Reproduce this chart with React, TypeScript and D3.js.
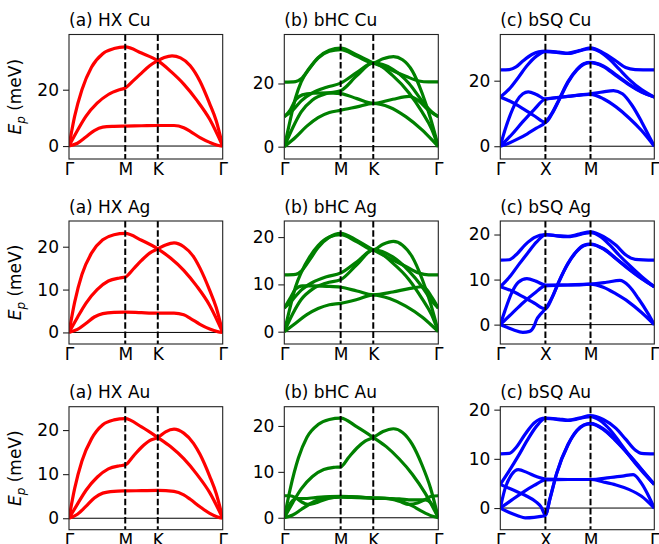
import React, { useEffect, useRef } from 'react';
import * as d3 from 'd3';

type Pt = [number, number];

// k runs 0..3 over the three path segments (G-M-K-G or G-X-M-G)
const HEX_LABELS = ['Γ', 'M', 'K', 'Γ'];
const SQ_LABELS = ['Γ', 'X', 'M', 'Γ'];
const HEX_KPOS = [0, 0.577, 0.911, 1.577];
const SQ_KPOS = [0, 0.5, 1.0, 1.707];

const TITLES = [
  ['(a) HX Cu', '(b) bHC Cu', '(c) bSQ Cu'],
  ['(a) HX Ag', '(b) bHC Ag', '(c) bSQ Ag'],
  ['(a) HX Au', '(b) bHC Au', '(c) bSQ Au'],
];

const Y_LIMITS: [number, number][][] = [
  [[-4.6, 39.6], [-3.9, 35.5], [-3.9, 34.1]],
  [[-2.7, 26.0], [-2.6, 23.4], [-4.3, 23.0]],
  [[-2.6, 25.3], [-2.6, 24.2], [-4.4, 20.6]],
];
const Y_TICKS = [[0, 20], [0, 10, 20], [0, 10, 20]];

const HX_CU: Pt[][] = [
  [[0, 0], [0.1, 10.5], [0.23, 20], [0.4, 28], [0.6, 32.8], [0.8, 34.6], [1, 35.2], [1.5, 33], [2, 30.3], [2.2, 26.5], [2.4, 22], [2.6, 16.3], [2.8, 9.5], [3, 0]],
  [[0, 0], [0.15, 5.5], [0.3, 10.5], [0.5, 15.2], [0.7, 18.3], [0.9, 20], [1, 20.6], [1.25, 23.2], [1.5, 25.9], [1.75, 28.5], [2, 30.3], [2.1, 31.4], [2.22, 32], [2.35, 31.3], [2.5, 28.5], [2.65, 23], [2.8, 15], [2.9, 9], [3, 0]],
  [[0, 0], [0.15, 1], [0.3, 3.2], [0.45, 5.5], [0.6, 6.7], [0.8, 7], [1, 7.1], [1.5, 7.2], [2, 7.3], [2.25, 7.3], [2.4, 6.5], [2.5, 5.2], [2.65, 3], [2.8, 1.3], [2.92, 0.3], [3, 0]],
];
const HX_AG: Pt[][] = [
  [[0, 0], [0.1, 7], [0.23, 13.5], [0.4, 18.5], [0.6, 21.6], [0.8, 22.8], [1, 23.1], [1.5, 21.5], [2, 19.5], [2.2, 17.3], [2.4, 14.5], [2.6, 10.8], [2.8, 6.3], [3, 0]],
  [[0, 0], [0.15, 3.5], [0.3, 6.8], [0.5, 10], [0.7, 12], [0.9, 12.7], [1, 12.9], [1.25, 14.8], [1.5, 16.8], [1.75, 18.5], [2, 19.5], [2.12, 20.4], [2.25, 20.9], [2.4, 20], [2.55, 17.7], [2.65, 15], [2.8, 9.8], [2.9, 5.8], [3, 0]],
  [[0, 0], [0.15, 0.7], [0.3, 2.1], [0.45, 3.6], [0.6, 4.4], [0.8, 4.7], [1, 4.75], [1.5, 4.6], [2, 4.5], [2.25, 4.5], [2.4, 4.1], [2.5, 3.3], [2.65, 1.9], [2.8, 0.8], [2.92, 0.2], [3, 0]],
];
const HX_AU: Pt[][] = [
  [[0, 0], [0.1, 6.7], [0.23, 13], [0.4, 18], [0.6, 21.2], [0.8, 22.3], [1, 22.6], [1.5, 20.7], [2, 18.3], [2.2, 16.2], [2.4, 13.5], [2.6, 10], [2.8, 5.8], [3, 0]],
  [[0, 0], [0.15, 3.2], [0.3, 6.3], [0.5, 9.3], [0.7, 11.2], [0.9, 11.9], [1, 12.1], [1.25, 14.1], [1.5, 16.1], [1.75, 17.6], [2, 18.3], [2.12, 19.6], [2.25, 20.2], [2.4, 19.3], [2.55, 17], [2.65, 14.5], [2.8, 9.5], [2.9, 5.6], [3, 0]],
  [[0, 0], [0.15, 0.9], [0.3, 2.7], [0.45, 4.6], [0.6, 5.7], [0.8, 6.1], [1, 6.2], [1.5, 6.25], [2, 6.3], [2.25, 6.1], [2.4, 5.3], [2.5, 4.3], [2.65, 2.6], [2.8, 1.1], [2.92, 0.3], [3, 0]],
];

const BHC_CU: Pt[][] = [
  [[0, 20.4], [0.2, 20.6], [0.3, 21.5], [0.45, 25], [0.6, 28.2], [0.8, 30.5], [1, 31.2], [1.5, 29], [2, 26.5], [2.25, 24.5], [2.5, 22.3], [2.7, 20.8], [2.85, 20.5], [3, 20.5]],
  [[0, 0], [0.1, 8], [0.2, 15.5], [0.3, 20.5], [0.45, 24.8], [0.6, 28], [0.8, 30.2], [1, 30.7], [1.5, 28.6], [2, 26.5], [2.15, 27.8], [2.31, 28.5], [2.45, 27.5], [2.6, 24], [2.75, 17], [2.88, 9], [3, 0]],
  [[0, 9.5], [0.15, 11.5], [0.3, 14.5], [0.5, 17], [0.75, 18.8], [1, 20.1], [1.5, 23.5], [2, 26.5], [2.3, 24.5], [2.55, 20], [2.75, 14.5], [2.9, 11], [3, 9.5]],
  [[0, 0], [0.15, 6], [0.3, 11], [0.5, 14.8], [0.75, 16.8], [1, 17.7], [1.5, 22.5], [2, 26.5], [2.3, 22.5], [2.55, 17], [2.75, 11], [2.9, 5.5], [3, 0]],
  [[0, 9.5], [0.1, 11.5], [0.2, 14.8], [0.32, 16.4], [0.5, 16.9], [0.75, 17], [1, 16.8], [1.5, 15.2], [2, 13.7], [2.3, 15], [2.55, 15.9], [2.7, 14.5], [2.85, 11.5], [3, 9.5]],
  [[0, 0], [0.2, 3], [0.4, 6.5], [0.6, 9.2], [0.8, 10.8], [1, 11.5], [1.5, 12.6], [2, 13.7], [2.25, 12.5], [2.5, 9.5], [2.75, 5.3], [2.9, 2.2], [3, 0]],
];
const BHC_AG: Pt[][] = [
  [[0, 12], [0.2, 12.1], [0.3, 12.8], [0.45, 15.2], [0.6, 17.8], [0.8, 20], [1, 20.8], [1.5, 19.3], [2, 17.3], [2.25, 15.5], [2.5, 13.8], [2.7, 12.4], [2.85, 12], [3, 12]],
  [[0, 0], [0.1, 5], [0.2, 9.5], [0.3, 12.5], [0.45, 15.8], [0.6, 18.2], [0.8, 20], [1, 20.5], [1.5, 19], [2, 17.3], [2.15, 18.5], [2.31, 19.1], [2.45, 18.3], [2.6, 15.8], [2.75, 11.2], [2.88, 6], [3, 0]],
  [[0, 5], [0.15, 6.8], [0.3, 8.8], [0.5, 10.4], [0.75, 11.6], [1, 12.4], [1.5, 14.8], [2, 17.3], [2.3, 15.8], [2.55, 12.8], [2.75, 9.5], [2.9, 6.5], [3, 5]],
  [[0, 0], [0.15, 3.8], [0.3, 6.8], [0.5, 9], [0.75, 10.3], [1, 11], [1.5, 14.2], [2, 17.3], [2.3, 14.5], [2.55, 11], [2.75, 7], [2.9, 3.5], [3, 0]],
  [[0, 5], [0.1, 7], [0.2, 9], [0.32, 9.7], [0.5, 9.7], [0.75, 9.6], [1, 9.4], [1.5, 8.6], [2, 7.8], [2.3, 8.4], [2.55, 9.1], [2.77, 9.5], [2.9, 7.3], [3, 5]],
  [[0, 0], [0.2, 1.8], [0.4, 3.6], [0.6, 4.9], [0.8, 5.7], [1, 6], [1.5, 6.8], [2, 7.8], [2.25, 7], [2.5, 5.4], [2.75, 3.1], [2.9, 1.3], [3, 0]],
];
const BHC_AU: Pt[][] = [
  [[0, 0], [0.1, 6], [0.25, 13], [0.4, 17.5], [0.6, 20.3], [0.8, 21.4], [1, 21.7], [1.5, 19.8], [2, 17.5], [2.2, 15.5], [2.4, 12.8], [2.6, 9.5], [2.8, 5.3], [3, 0]],
  [[0, 0], [0.15, 3.3], [0.3, 6.3], [0.5, 9], [0.7, 10.5], [0.9, 11], [1, 11.1], [1.25, 13.2], [1.5, 15.2], [1.75, 16.7], [2, 17.5], [2.15, 18.8], [2.31, 19.4], [2.45, 18.6], [2.6, 16], [2.75, 11.5], [2.88, 6.5], [3, 0]],
  [[0, 4.8], [0.1, 4.8], [0.2, 4.4], [0.3, 3.5], [0.42, 2.9], [0.55, 3.2], [0.7, 3.9], [0.85, 4.4], [1, 4.6], [1.5, 4.55], [2, 4.3], [2.2, 4.2], [2.4, 3.6], [2.55, 2.9], [2.68, 3.2], [2.8, 4], [2.9, 4.7], [3, 4.8]],
  [[0, 0], [0.07, 2.3], [0.15, 3.8], [0.22, 4.2], [0.35, 4.2], [0.55, 4.4], [0.8, 4.6], [1, 4.65], [1.5, 4.5], [2, 4.3], [2.4, 4.1], [2.6, 3.9], [2.8, 3.9], [2.88, 3.3], [2.95, 1.8], [3, 0]],
  [[0, 0], [0.15, 0.6], [0.3, 1.8], [0.45, 3], [0.6, 3.9], [0.8, 4.4], [1, 4.5], [1.5, 4.4], [2, 4.3], [2.25, 4.2], [2.45, 3.5], [2.6, 2.6], [2.75, 1.4], [2.9, 0.4], [3, 0]],
];

const BSQ_CU: Pt[][] = [
  [[0, 23.3], [0.2, 23.4], [0.35, 24.2], [0.5, 26], [0.7, 28], [0.85, 28.8], [1, 29], [1.3, 28.7], [1.5, 28.4], [1.75, 29.2], [2, 30], [2.2, 28.5], [2.4, 26], [2.55, 24], [2.7, 23.4], [3, 23.3]],
  [[0, 15], [0.2, 17.5], [0.4, 21], [0.6, 24.7], [0.8, 27.5], [1, 28.9], [1.5, 28.3], [2, 29.8], [2.15, 28.8], [2.3, 26.5], [2.45, 23.5], [2.6, 20.5], [2.8, 17.3], [3, 15]],
  [[0, 15], [0.25, 13.5], [0.5, 11.5], [0.75, 9.3], [1, 7.3], [1.15, 10], [1.3, 14], [1.5, 19.5], [1.7, 23.3], [1.85, 25], [2, 25.5], [2.2, 24.3], [2.4, 21.5], [2.6, 18.8], [2.8, 16.5], [3, 15]],
  [[0, 0], [0.1, 4.8], [0.2, 8.8], [0.35, 13.5], [0.5, 16], [0.62, 16.6], [0.8, 15.8], [1, 14.4], [1.25, 14.8], [1.5, 15.2], [1.75, 15.6], [2, 16], [2.2, 16.6], [2.36, 17], [2.5, 16], [2.65, 12.5], [2.8, 7.5], [2.92, 3], [3, 0]],
  [[0, 0], [0.25, 3.5], [0.5, 7.5], [0.75, 11.2], [1, 14.4], [1.5, 15.2], [2, 15.8], [2.2, 14.5], [2.4, 12], [2.6, 8.7], [2.8, 4.8], [3, 0]],
  [[0, 0], [0.2, 1], [0.4, 2.3], [0.6, 3.8], [0.8, 5.5], [1, 7.3], [1.15, 10.2], [1.3, 14.2], [1.5, 19.7], [1.7, 23.5], [1.85, 25.2], [2, 25.6], [2.2, 24.5], [2.4, 21.8], [2.6, 19], [2.8, 16.6], [3, 15]],
];
const BSQ_AG: Pt[][] = [
  [[0, 14.3], [0.2, 14.4], [0.35, 15.5], [0.55, 17.7], [0.75, 19.3], [1, 20], [1.3, 19.7], [1.5, 19.6], [1.75, 20.1], [2, 20.6], [2.2, 19.6], [2.4, 17.6], [2.55, 15.5], [2.7, 14.5], [3, 14.3]],
  [[0, 8.4], [0.2, 10.5], [0.4, 13.2], [0.6, 15.8], [0.8, 18.3], [1, 19.9], [1.5, 19.5], [2, 20.4], [2.15, 19.6], [2.3, 17.7], [2.45, 15.4], [2.6, 13.3], [2.8, 10.7], [3, 8.4]],
  [[0, 8.4], [0.25, 7.5], [0.5, 6.2], [0.75, 4.8], [1, 3.5], [1.15, 6], [1.3, 9.5], [1.5, 13.5], [1.7, 16.3], [1.85, 17.5], [2, 17.8], [2.2, 16.8], [2.4, 14.6], [2.6, 12.3], [2.8, 10.2], [3, 8.4]],
  [[0, 0], [0.1, 3], [0.25, 7], [0.4, 9.4], [0.59, 10.2], [0.8, 9.6], [1, 8.8], [1.5, 8.8], [2, 9], [2.25, 9.4], [2.46, 9.8], [2.6, 8.6], [2.75, 5.8], [2.9, 2.5], [3, 0]],
  [[0, 0], [0.25, 2.4], [0.5, 4.8], [0.75, 6.9], [1, 8.6], [1.5, 8.8], [2, 9], [2.2, 8.3], [2.4, 6.8], [2.6, 5], [2.8, 2.7], [3, 0]],
  [[0, 0], [0.15, -0.6], [0.3, -1.2], [0.5, -1.7], [0.65, -1.5], [0.75, -0.3], [0.8, 1], [0.9, 2.4], [1, 3.5], [1.15, 6.1], [1.3, 9.6], [1.5, 13.6], [1.7, 16.4], [1.85, 17.6], [2, 17.9], [2.2, 16.9], [2.4, 14.7], [2.6, 12.4], [2.8, 10.3], [3, 8.4]],
];
const BSQ_AU: Pt[][] = [
  [[0, 11], [0.2, 11.1], [0.35, 12.3], [0.55, 15], [0.75, 17.3], [1, 18.3], [1.3, 18.1], [1.5, 17.9], [1.75, 18.3], [2, 18.8], [2.2, 18], [2.4, 16.2], [2.55, 14], [2.7, 11.8], [2.8, 11.1], [3, 11]],
  [[0, 4.8], [0.2, 7.6], [0.4, 10.6], [0.6, 13.8], [0.8, 16.6], [1, 18.2], [1.5, 17.8], [2, 18.6], [2.15, 17.8], [2.3, 16], [2.45, 13.5], [2.6, 10.8], [2.8, 7.6], [3, 4.8]],
  [[0, 4.8], [0.3, 3.6], [0.55, 2.6], [0.8, 1.2], [0.9, 0.3], [1, -1.4], [1.1, 1.8], [1.25, 7], [1.5, 12.8], [1.7, 15.7], [1.85, 16.8], [2, 17.1], [2.2, 16], [2.4, 13.6], [2.6, 10.8], [2.8, 7.8], [3, 4.8]],
  [[0, 0], [0.1, 3.8], [0.25, 6.8], [0.4, 7.8], [0.6, 7.2], [0.8, 6.4], [1, 5.9], [1.5, 5.8], [2, 5.8], [2.3, 6.2], [2.5, 6.5], [2.67, 6.8], [2.8, 5], [2.92, 2.2], [3, 0]],
  [[0, 0], [0.25, 1.6], [0.5, 3.2], [0.75, 4.6], [1, 5.7], [1.5, 5.8], [2, 5.8], [2.2, 5.3], [2.4, 4.7], [2.6, 3.8], [2.8, 2.4], [3, 0]],
  [[0, 0], [0.2, -0.9], [0.4, -1.6], [0.55, -2], [0.75, -1.9], [0.9, -1.7], [1, -1.5], [1.1, 1.9], [1.25, 7.1], [1.5, 12.9], [1.7, 15.8], [1.85, 16.9], [2, 17.2], [2.2, 16.1], [2.4, 13.7], [2.6, 10.9], [2.8, 7.9], [3, 4.8]],
];

const BANDS = [
  [HX_CU, BHC_CU, BSQ_CU],
  [HX_AG, BHC_AG, BSQ_AG],
  [HX_AU, BHC_AU, BSQ_AU],
];
const COLORS = ['#ff0000', '#008000', '#0000ff'];

const W = 659;
const H = 544;
const COL_X = [[69, 222.7], [284.3, 438.3], [500.3, 654.3]];
const ROW_Y = [[34.5, 159], [221, 344], [406.7, 529.7]];
const FONT = 'DejaVu Sans, sans-serif';
const FS = 17;

const App = () => {
  const ref = useRef<SVGSVGElement>(null);

  useEffect(() => {
    const svg = d3.select(ref.current);
    svg.selectAll('*').remove();
    const defs = svg.append('defs');

    for (let r = 0; r < 3; r++) {
      for (let c = 0; c < 3; c++) {
        const [x0, x1] = COL_X[c];
        const [y0, y1] = ROW_Y[r];
        const kpos = c === 2 ? SQ_KPOS : HEX_KPOS;
        const labels = c === 2 ? SQ_LABELS : HEX_LABELS;
        const len = d3.scaleLinear().domain([0, kpos[3]]).range([x0, x1]);
        const x = d3.scaleLinear().domain([0, 1, 2, 3]).range(kpos.map((k) => len(k)));
        const y = d3.scaleLinear().domain(Y_LIMITS[r][c]).range([y1, y0]);
        const id = `clip-${r}-${c}`;
        defs.append('clipPath').attr('id', id)
          .append('rect').attr('x', x0).attr('y', y0).attr('width', x1 - x0).attr('height', y1 - y0);

        const g = svg.append('g');
        const inner = g.append('g').attr('clip-path', `url(#${id})`);

        inner.append('line')
          .attr('x1', x0).attr('x2', x1).attr('y1', y(0)).attr('y2', y(0))
          .attr('stroke', '#000').attr('stroke-width', 1);

        const line = d3.line<Pt>()
          .x((d) => x(d[0]))
          .y((d) => y(d[1]))
          .curve(d3.curveMonotoneX);

        inner.selectAll('path.band')
          .data(BANDS[r][c])
          .join('path')
          .attr('class', 'band')
          .attr('d', (d) => line(d))
          .attr('fill', 'none')
          .attr('stroke', COLORS[c])
          .attr('stroke-width', 3.2)
          .attr('stroke-linejoin', 'round');

        // high-symmetry markers
        inner.selectAll('line.sym')
          .data([1, 2])
          .join('line')
          .attr('class', 'sym')
          .attr('x1', (d) => x(d)).attr('x2', (d) => x(d))
          .attr('y1', y0).attr('y2', y1)
          .attr('stroke', '#000')
          .attr('stroke-width', 2)
          .attr('stroke-dasharray', '6.5,2.7');

        g.append('rect')
          .attr('x', x0).attr('y', y0)
          .attr('width', x1 - x0).attr('height', y1 - y0)
          .attr('fill', 'none').attr('stroke', '#222').attr('stroke-width', 1.1);

        const yAxis = g.append('g')
          .attr('transform', `translate(${x0},0)`)
          .call(d3.axisLeft(y).tickValues(Y_TICKS[r]).tickSize(6).tickPadding(4).tickFormat(d3.format('d')));
        yAxis.select('.domain').remove();
        yAxis.selectAll('line').attr('stroke', '#222').attr('stroke-width', 1.1);
        yAxis.selectAll('text').attr('font-size', FS).attr('font-family', FONT).attr('fill', '#000');

        const xAxis = g.append('g')
          .attr('transform', `translate(0,${y1})`)
          .call(d3.axisBottom(x).tickValues([0, 1, 2, 3]).tickSize(0).tickPadding(4)
            .tickFormat((_d, i) => labels[i]));
        xAxis.select('.domain').remove();
        xAxis.selectAll('text').attr('font-size', FS).attr('font-family', FONT).attr('fill', '#000');

        g.append('text')
          .attr('x', x0).attr('y', y0 - 8.4)
          .attr('font-size', FS).attr('font-family', FONT)
          .text(TITLES[r][c]);

        if (c === 0) {
          const t = g.append('text')
            .attr('transform', `translate(21,${(y0 + y1) / 2}) rotate(-90)`)
            .attr('text-anchor', 'middle')
            .attr('font-size', FS).attr('font-family', FONT);
          t.append('tspan').attr('font-style', 'italic').text('E');
          t.append('tspan').attr('font-style', 'italic').attr('font-size', FS * 0.7).attr('dy', 4).text('p');
          t.append('tspan').attr('dy', -4).text(' (meV)');
        }
      }
    }
  }, []);

  return (
    <svg
      ref={ref}
      width={W}
      height={H}
      style={{ position: 'absolute', left: 0, top: 0, background: '#fff' }}
    />
  );
};

export default App;
